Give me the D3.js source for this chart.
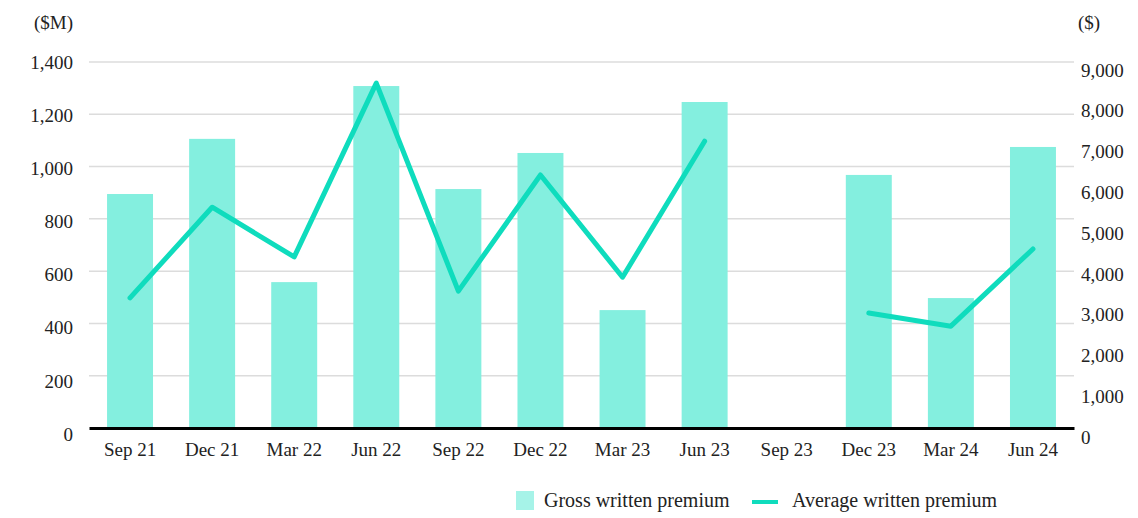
<!DOCTYPE html>
<html>
<head>
<meta charset="utf-8">
<script src="https://cdn.jsdelivr.net/npm/d3@7"></script>
<style>
  body { margin: 0; background: #fff; }
  svg text { font-family: "Liberation Serif", "Times New Roman", serif; fill: #222; }
  .grid line { stroke: #dcdcdc; stroke-width: 1.5; }
</style>
</head>
<body>
<div id="chart"></div>
<script>
// quarters along the x axis
var quarters = ["Sep 21", "Dec 21", "Mar 22", "Jun 22", "Sep 22", "Dec 22",
                "Mar 23", "Jun 23", "Sep 23", "Dec 23", "Mar 24", "Jun 24"];
// gross written premium ($M), left axis
var gwp = [895, 1106, 558, 1308, 914, 1052, 451, 1247, null, 968, 497, 1075];
// average written premium ($), right axis
var awp = [3270, 5550, 4300, 8670, 3440, 6360, 3790, 7210, null, 2890, 2560, 4500];
var leftTicks = [0, 200, 400, 600, 800, 1000, 1200, 1400];
var rightTicks = [0, 1000, 2000, 3000, 4000, 5000, 6000, 7000, 8000, 9000];

var barColor = "#84efdf",
    lineColor = "#0fdcbd";

var margin = {top: 62, right: 64, bottom: 90, left: 89},
    width = 1138 - margin.left - margin.right,
    height = 518 - margin.top - margin.bottom;

var svg = d3.select("#chart").append("svg")
    .attr("width", 1138)
    .attr("height", 518)
  .append("g")
    .attr("transform", "translate(" + margin.left + "," + margin.top + ")");

var x = d3.scaleBand()
    .domain(quarters)
    .range([0, width])
    .paddingInner(0.44)
    .paddingOuter(0.22);

var y = d3.scaleLinear().domain([0, 1400]).range([height, 0]);
// right axis shares the plot height, 9,000 sits a little under the top grid line
var y2 = d3.scaleLinear().domain([0, 9200]).range([height, 0]);

// tick labels are spread a bit wider than the grid in the original
var yLabel = d3.scaleLinear().domain([0, 1400]).range([height + 6, 0]);
var y2Label = d3.scaleLinear().domain([0, 9000]).range([height + 9, 8]);

// grid lines
svg.append("g")
    .attr("class", "grid")
  .selectAll("line")
  .data(leftTicks.filter(function(d) { return d > 0; }))
  .enter().append("line")
    .attr("x1", 0)
    .attr("x2", width)
    .attr("y1", function(d) { return y(d); })
    .attr("y2", function(d) { return y(d); });

// left tick labels
svg.append("g")
  .selectAll("text")
  .data(leftTicks)
  .enter().append("text")
    .attr("x", -16)
    .attr("y", function(d) { return yLabel(d); })
    .attr("dy", "0.35em")
    .style("text-anchor", "end")
    .style("font-size", "19px")
    .text(function(d) { return d3.format(",")(d); });

// right tick labels
svg.append("g")
  .selectAll("text")
  .data(rightTicks)
  .enter().append("text")
    .attr("x", width + 7)
    .attr("y", function(d) { return y2Label(d); })
    .attr("dy", "0.35em")
    .style("text-anchor", "start")
    .style("font-size", "19px")
    .text(function(d) { return d3.format(",")(d); });

// unit labels
svg.append("text")
    .attr("x", -16)
    .attr("y", -40)
    .attr("dy", "0.35em")
    .style("text-anchor", "end")
    .style("font-size", "19px")
    .text("($M)");

svg.append("text")
    .attr("x", width + 4)
    .attr("y", -40)
    .attr("dy", "0.35em")
    .style("text-anchor", "start")
    .style("font-size", "19px")
    .text("($)");

// bars
svg.selectAll(".bar")
    .data(quarters.map(function(q, i) { return {q: q, v: gwp[i]}; })
      .filter(function(d) { return d.v != null; }))
  .enter().append("rect")
    .attr("class", "bar")
    .attr("x", function(d) { return x(d.q); })
    .attr("width", x.bandwidth())
    .attr("y", function(d) { return y(d.v); })
    .attr("height", function(d) { return height - y(d.v); })
    .style("fill", barColor);

// x axis
var xAxis = svg.append("g")
    .attr("transform", "translate(0," + height + ")")
    .call(d3.axisBottom(x).tickSize(0).tickPadding(15));
xAxis.select(".domain")
    .attr("stroke", "#000")
    .attr("stroke-width", 3);
xAxis.selectAll("text")
    .style("font-size", "19px")
    .style("fill", "#222")
    .attr("font-family", null);

// average premium line, broken at the missing quarter
var line = d3.line()
    .defined(function(d) { return d.v != null; })
    .x(function(d) { return x(d.q) + x.bandwidth() / 2; })
    .y(function(d) { return y2(d.v); });

svg.append("path")
    .datum(quarters.map(function(q, i) { return {q: q, v: awp[i]}; }))
    .attr("d", line)
    .style("fill", "none")
    .style("stroke", lineColor)
    .style("stroke-width", 5)
    .style("stroke-linecap", "round")
    .style("stroke-linejoin", "round");

// legend
var legend = svg.append("g")
    .attr("transform", "translate(0," + (height + 63) + ")");

legend.append("rect")
    .attr("x", 427)
    .attr("y", 0)
    .attr("width", 18)
    .attr("height", 19)
    .style("fill", "#a6f3e8");

legend.append("text")
    .attr("x", 455)
    .attr("y", 16)
    .style("font-size", "20px")
    .text("Gross written premium");

legend.append("line")
    .attr("x1", 663)
    .attr("x2", 689)
    .attr("y1", 11)
    .attr("y2", 11)
    .style("stroke", lineColor)
    .style("stroke-width", 4);

legend.append("text")
    .attr("x", 703)
    .attr("y", 16)
    .style("font-size", "20px")
    .text("Average written premium");
</script>
</body>
</html>
